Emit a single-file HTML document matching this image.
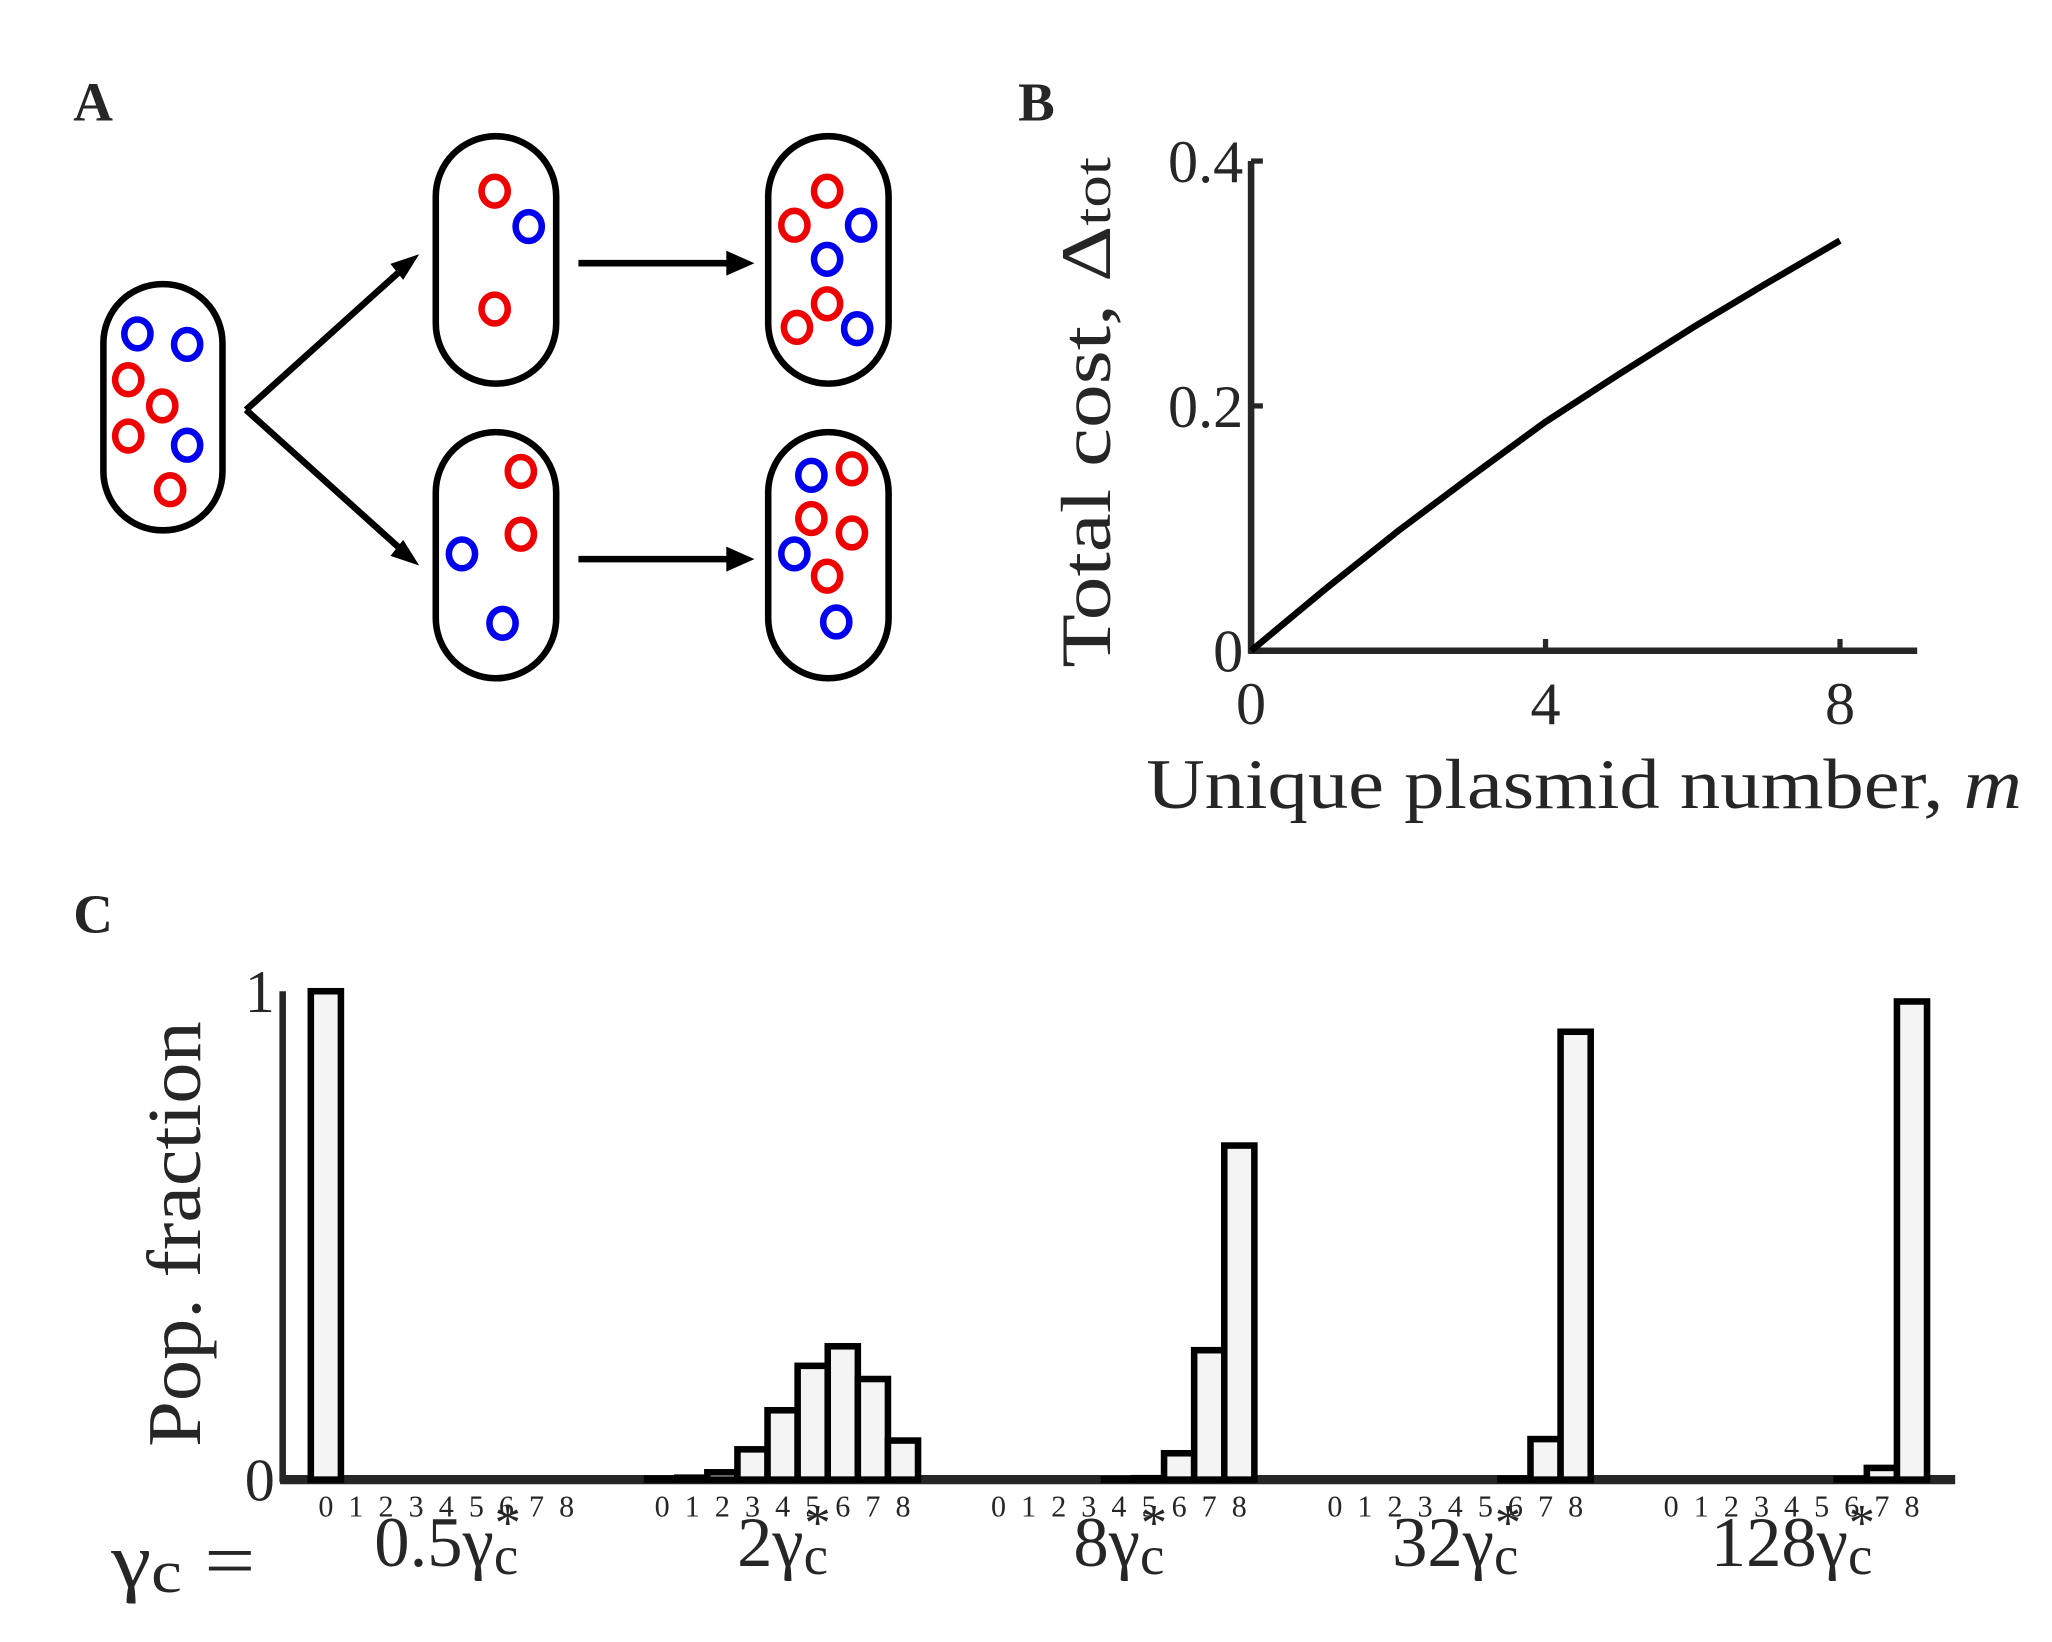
<!DOCTYPE html>
<html><head><meta charset="utf-8"><style>
html,body{margin:0;padding:0;background:#fff;}
svg{display:block;}
text{font-family:"Liberation Serif",serif;fill:#262626;}
</style></head><body>
<svg id="fig" width="2052" height="1642" viewBox="0 0 1568 1254" preserveAspectRatio="none">
<g>
<text x="56" y="92" font-size="42" font-weight="bold" fill="#000">A</text>
<g fill="none" stroke="#000" stroke-width="5">
<rect x="79" y="217" width="91" height="188" rx="45"/>
<rect x="333" y="104" width="92" height="189" rx="46"/>
<rect x="333" y="330" width="92" height="188" rx="46"/>
<rect x="587" y="104" width="92" height="189" rx="46"/>
<rect x="587" y="330" width="92" height="188" rx="46"/>
</g>
<g fill="none" stroke-width="5">
<g stroke="#0000ee">
<ellipse cx="105" cy="255" rx="10" ry="11"/><ellipse cx="143" cy="263" rx="10" ry="11"/><ellipse cx="143" cy="340" rx="10" ry="11"/>
<ellipse cx="404" cy="173" rx="10" ry="11"/>
<ellipse cx="658" cy="172" rx="10" ry="11"/><ellipse cx="632" cy="198" rx="10" ry="11"/><ellipse cx="655" cy="251" rx="10" ry="11"/>
<ellipse cx="353" cy="423" rx="10" ry="11"/><ellipse cx="384" cy="476" rx="10" ry="11"/>
<ellipse cx="620" cy="363" rx="10" ry="11"/><ellipse cx="607" cy="423" rx="10" ry="11"/><ellipse cx="639" cy="475" rx="10" ry="11"/>
</g>
<g stroke="#ee0000">
<ellipse cx="98" cy="290" rx="10" ry="11"/><ellipse cx="124" cy="310" rx="10" ry="11"/><ellipse cx="98" cy="333" rx="10" ry="11"/><ellipse cx="130" cy="374" rx="10" ry="11"/>
<ellipse cx="378" cy="146" rx="10" ry="11"/><ellipse cx="378" cy="236" rx="10" ry="11"/>
<ellipse cx="632" cy="146" rx="10" ry="11"/><ellipse cx="607" cy="172" rx="10" ry="11"/><ellipse cx="632" cy="232" rx="10" ry="11"/><ellipse cx="609" cy="250" rx="10" ry="11"/>
<ellipse cx="398" cy="360" rx="10" ry="11"/><ellipse cx="398" cy="408" rx="10" ry="11"/>
<ellipse cx="651" cy="358" rx="10" ry="11"/><ellipse cx="620" cy="396" rx="10" ry="11"/><ellipse cx="651" cy="407" rx="10" ry="11"/><ellipse cx="632" cy="440" rx="10" ry="11"/>
</g>
</g>
<g stroke="#000" stroke-width="5" fill="#000">
<line x1="188" y1="313" x2="308" y2="205"/><polygon points="318,196 300,202 308,212" stroke-width="2"/>
<line x1="188" y1="313" x2="308" y2="421"/><polygon points="318,430 308,414 300,424" stroke-width="2"/>
<line x1="442" y1="201" x2="560" y2="201"/><polygon points="574,201 556,193 556,209" stroke-width="2"/>
<line x1="442" y1="427" x2="560" y2="427"/><polygon points="574,427 556,419 556,435" stroke-width="2"/>
</g>
</g>
<g id="panelB">
<text x="778" y="92" font-size="42" font-weight="bold" fill="#000">B</text>
</g>
<g id="panelC">
<text x="56" y="712" font-size="42" font-weight="bold" fill="#000">C</text>
</g>
</svg>
<script>
const NS='http://www.w3.org/2000/svg';
// Panel B data
const costM=[0,1,2,3,4,5,6,7,8];
const costVals=[0,0.05,0.098,0.143,0.187,0.226,0.264,0.300,0.335];
const bXTicks=[0,4,8];
const bYTicks=[0,0.2,0.4];
const bYTickLabels=['0','0.2','0.4'];
// Panel C data
const groupLabels=['0.5','2','8','32','128'];
const plasmidCats=[0,1,2,3,4,5,6,7,8];
const frac05=[1,0,0,0,0,0,0,0,0];
const frac2=[0.002,0.004,0.015,0.062,0.142,0.233,0.273,0.206,0.08];
const frac8=[0,0,0,0,0.001,0.003,0.054,0.265,0.684];
const frac32=[0,0,0,0,0,0,0.002,0.083,0.917];
const frac128=[0,0,0,0,0,0,0.001,0.024,0.979];
const cYTicks=[0,1];

function mk(tag,attrs,parent,txt){const e=document.createElementNS(NS,tag);for(const k in attrs)e.setAttribute(k,attrs[k]);if(txt!==undefined)e.textContent=txt;parent.appendChild(e);return e;}

// Panel B
const pb=document.getElementById('panelB');
const bx=v=>956+v*(1406-956)/8;
const by=v=>497-v*(497-123)/0.4;
let e=mk('line',{x1:956,y1:by(0.4),x2:956,y2:499,stroke:'#262626','stroke-width':5},pb);


e=mk('line',{x1:954,y1:497,x2:1465,y2:497,stroke:'#262626','stroke-width':5},pb);


bXTicks.forEach(t=>{
  mk('line',{x1:bx(t),y1:497,x2:bx(t),y2:488,stroke:'#262626','stroke-width':4},pb);
  e=mk('text',{x:bx(t),y:553,'font-size':46,'text-anchor':'middle'},pb,String(t));
  
  
});
bYTicks.forEach((t,i)=>{
  mk('line',{x1:956,y1:by(t),x2:965,y2:by(t),stroke:'#262626','stroke-width':4},pb);
  e=mk('text',{x:950,y:by(t)+16,'font-size':46,'text-anchor':'end'},pb,bYTickLabels[i]);
  
  
});
e=mk('polyline',{points:costM.map((m,i)=>bx(m)+','+by(costVals[i])).join(' '),fill:'none',stroke:'#000','stroke-width':5},pb);


e=mk('text',{x:876,y:617,'font-size':54,textLength:669,lengthAdjust:'spacingAndGlyphs'},pb);


e.innerHTML='Unique plasmid number, <tspan font-style="italic">m</tspan>';
e=mk('text',{x:0,y:0,'font-size':54,textLength:390,lengthAdjust:'spacingAndGlyphs',transform:'translate(848,510) rotate(-90)'},pb);


e.innerHTML='Total cost, Δ<tspan font-size="40" dy="0">tot</tspan>';

// Panel C
const pc=document.getElementById('panelC');
const allFrac=[frac05,frac2,frac8,frac32,frac128];
const cy=v=>1130-v*(1130-757);
const cx=(g,k)=>249+g*257+k*23;
const bw=23;
e=mk('line',{x1:216,y1:757,x2:216,y2:1132,stroke:'#262626','stroke-width':5},pc);


e=mk('line',{x1:214,y1:1130,x2:1494,y2:1130,stroke:'#262626','stroke-width':7},pc);


cYTicks.forEach(t=>{
  e=mk('text',{x:210,y:cy(t)+16,'font-size':46,'text-anchor':'end'},pc,String(t));
  
  
});
allFrac.forEach((arr,g)=>{
  plasmidCats.forEach((k,i)=>{
    const v=arr[i];
    const r=mk('rect',{x:cx(g,k)-bw/2,y:cy(v),width:bw,height:Math.max(0,1130-cy(v)),fill:'#f4f4f4',stroke:'#000','stroke-width':5},pc);
    
    
    const t=mk('text',{x:cx(g,k),y:1158,'font-size':23,'text-anchor':'middle'},pc,String(k));
    
    
  });
  const lab=mk('text',{x:cx(g,4),y:1196,'font-size':54,'text-anchor':'middle'},pc);
  
  
  lab.innerHTML=groupLabels[g]+'γ<tspan font-size="42" dy="6">c</tspan>';
  const w=lab.getComputedTextLength();
  const st=mk('text',{x:cx(g,4)+w/2-8,y:1176,'font-size':40,'text-anchor':'middle'},pc,'*');
  
  
});
e=mk('text',{x:85,y:1212,'font-size':60,textLength:110,lengthAdjust:'spacingAndGlyphs'},pc);


e.innerHTML='γ<tspan font-size="46" dy="4">c</tspan><tspan dy="-4"> =</tspan>';
e=mk('text',{x:0,y:0,'font-size':58,textLength:325,lengthAdjust:'spacingAndGlyphs',transform:'translate(153,1105) rotate(-90)'},pc,'Pop. fraction');


</script>
</body></html>
